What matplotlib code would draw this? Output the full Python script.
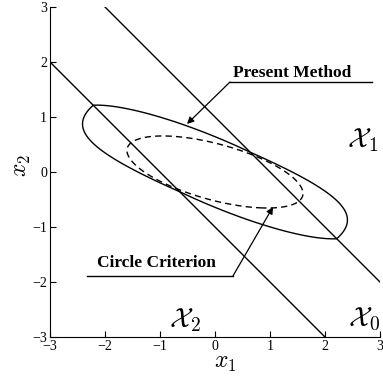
import numpy as np
import matplotlib
matplotlib.use("Agg")
import matplotlib.pyplot as plt

plt.rcParams["font.family"] = ["Liberation Serif", "DejaVu Serif"]
plt.rcParams["mathtext.fontset"] = "cm"

# sector boundaries: x1 + x2 = c
boundaries = [-1.0, 1.0]
ticks = [-3, -2, -1, 0, 1, 2, 3]

# present method: piecewise quadratic level set V = 1
P0 = [[0.561, 0.99], [0.99, 2.424]]          # middle sector X0
L1 = [-0.686, -1.218, 0.704]                 # extra term in X1: (x1+x2-1)*(a*x1+b*x2+c)
# circle criterion: one quadratic
Pc = [[0.605, 0.880], [0.880, 3.611]]
level = 1.0


def quad(P, a, b):
    return P[0][0] * a * a + 2 * P[0][1] * a * b + P[1][1] * b * b


fig = plt.figure(figsize=(3.83, 3.80), dpi=100)
ax = fig.add_axes([0.1305, 0.1132, 0.8616, 0.8684])

g = np.linspace(-3, 3, 901)
x1, x2 = np.meshgrid(g, g)
s = x1 + x2
V = quad(P0, x1, x2)
V = np.where(s > 1, V + (s - 1) * (L1[0] * x1 + L1[1] * x2 + L1[2]), V)
V = np.where(s < -1, V + (-s - 1) * (-L1[0] * x1 - L1[1] * x2 + L1[2]), V)
ax.contour(x1, x2, V, levels=[level], colors="k", linewidths=1.0)

Vc = quad(Pc, x1, x2)
ax.contour(x1, x2, Vc, levels=[level], colors="k", linewidths=1.0,
           linestyles=[(0, (4.5, 3.0))])

xx = np.array([-3.0, 3.0])
for c in boundaries:
    ax.plot(xx, c - xx, color="k", lw=1.0)

# labels with leader lines
ax.plot([0.273, 2.855], [1.636, 1.636], color="k", lw=1.0)
ax.annotate("", xy=(-0.509, 0.873), xytext=(0.273, 1.636),
            arrowprops=dict(arrowstyle="-|>", color="k", lw=0.9,
                            shrinkA=0, shrinkB=0, mutation_scale=10))
ax.text(1.4, 1.727, "Present Method", ha="center", va="baseline",
        fontsize=12.5, fontweight="bold")

ax.plot([-2.327, 0.327], [-1.89, -1.89], color="k", lw=1.0)
ax.annotate("", xy=(1.055, -0.636), xytext=(0.327, -1.89),
            arrowprops=dict(arrowstyle="-|>", color="k", lw=0.9,
                            shrinkA=0, shrinkB=0, mutation_scale=10))
ax.text(-1.064, -1.727, "Circle Criterion", ha="center", va="baseline",
        fontsize=12.5, fontweight="bold")

ax.text(2.69, 0.58, r"$\mathcal{X}_1$", ha="center", va="center", fontsize=20)
ax.text(-0.545, -2.69, r"$\mathcal{X}_2$", ha="center", va="center", fontsize=20)
ax.text(2.71, -2.69, r"$\mathcal{X}_0$", ha="center", va="center", fontsize=20)

ax.set_xlim(-3, 3)
ax.set_ylim(-3, 3)
ax.set_xticks(ticks)
ax.set_yticks(ticks)
ax.tick_params(direction="in", length=4, labelsize=10, pad=2)
for side in ["top", "right"]:
    ax.spines[side].set_visible(False)
ax.set_xlabel(r"$x_1$", fontsize=17)
ax.set_ylabel(r"$x_2$", fontsize=17)
ax.xaxis.set_label_coords(0.53, -0.05)
ax.yaxis.set_label_coords(-0.05, 0.52)

fig.savefig("out.png", dpi=100)
